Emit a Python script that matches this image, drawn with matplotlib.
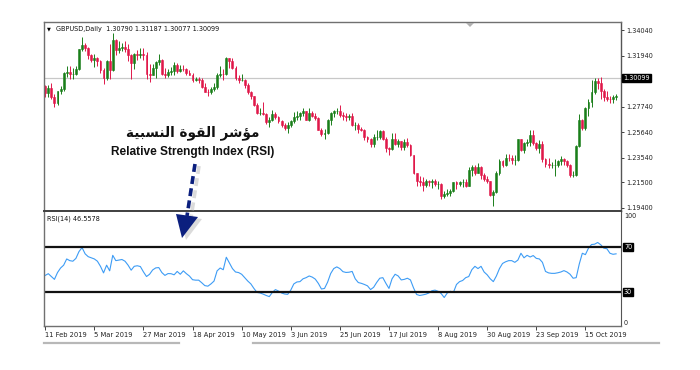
import numpy as np
import matplotlib.pyplot as plt
from matplotlib.patches import Polygon
from matplotlib.lines import Line2D
import matplotlib.transforms as mtransforms

# === Data (GBPUSD daily) ===
opens = [
    1.2940, 1.2885, 1.2930, 1.2850, 1.2805, 1.2900, 1.2920, 1.3050, 1.3060, 1.3040,
    1.3045, 1.3085, 1.3245, 1.3280, 1.3260, 1.3195, 1.3160, 1.3170, 1.3145, 1.3075,
    1.3010, 1.3150, 1.3075, 1.3320, 1.3240, 1.3260, 1.3265, 1.3250, 1.3200, 1.3135,
    1.3210, 1.3195, 1.3210, 1.3200, 1.3040, 1.3030, 1.3090, 1.3140, 1.3160, 1.3040,
    1.3030, 1.3060, 1.3070, 1.3120, 1.3070, 1.3085, 1.3080, 1.3050, 1.3035, 1.2995,
    1.3000, 1.2990, 1.2935, 1.2895, 1.2890, 1.2920, 1.2935, 1.3030, 1.3045, 1.3040,
    1.3170, 1.3150, 1.3095, 1.3010, 1.2995, 1.2995, 1.2955, 1.2895, 1.2860, 1.2790,
    1.2720, 1.2720, 1.2710, 1.2650, 1.2660, 1.2715, 1.2690, 1.2655, 1.2625, 1.2600,
    1.2625, 1.2655, 1.2690, 1.2695, 1.2720, 1.2735, 1.2665, 1.2720, 1.2695, 1.2680,
    1.2585, 1.2550, 1.2560, 1.2665, 1.2720, 1.2740, 1.2740, 1.2705, 1.2695, 1.2690,
    1.2700, 1.2620, 1.2620, 1.2590, 1.2580, 1.2520, 1.2510, 1.2470, 1.2520, 1.2525,
    1.2575, 1.2510, 1.2430, 1.2425, 1.2510, 1.2470, 1.2490, 1.2440, 1.2480, 1.2455,
    1.2375, 1.2225, 1.2160, 1.2150, 1.2130, 1.2165, 1.2150, 1.2160, 1.2140, 1.2140,
    1.2035, 1.2055, 1.2065, 1.2080, 1.2150, 1.2140, 1.2150, 1.2155, 1.2125, 1.2250,
    1.2280, 1.2230, 1.2280, 1.2210, 1.2180, 1.2160, 1.2050, 1.2075, 1.2225, 1.2325,
    1.2290, 1.2355, 1.2350, 1.2335, 1.2335, 1.2505, 1.2420, 1.2475, 1.2485, 1.2540,
    1.2475, 1.2430, 1.2465, 1.2340, 1.2305, 1.2290, 1.2290, 1.2290, 1.2330, 1.2345,
    1.2330, 1.2295, 1.2210, 1.2215, 1.2450, 1.2665, 1.2600, 1.2765, 1.2810, 1.2890,
    1.2985, 1.2970, 1.2900, 1.2855, 1.2840, 1.2835, 1.2850,
]
highs = [
    1.2950, 1.2950, 1.2965, 1.2875, 1.2905, 1.2945, 1.3060, 1.3110, 1.3108, 1.3090,
    1.3110, 1.3250, 1.3350, 1.3300, 1.3265, 1.3210, 1.3205, 1.3185, 1.3155, 1.3090,
    1.3160, 1.3290, 1.3380, 1.3330, 1.3310, 1.3300, 1.3310, 1.3285, 1.3205, 1.3215,
    1.3240, 1.3260, 1.3255, 1.3225, 1.3125, 1.3125, 1.3145, 1.3210, 1.3165, 1.3090,
    1.3085, 1.3100, 1.3140, 1.3130, 1.3120, 1.3120, 1.3090, 1.3075, 1.3050, 1.3015,
    1.3020, 1.3010, 1.2965, 1.2920, 1.2935, 1.2965, 1.3050, 1.3105, 1.3085, 1.3180,
    1.3175, 1.3175, 1.3110, 1.3030, 1.3045, 1.3000, 1.2965, 1.2900, 1.2865, 1.2800,
    1.2760, 1.2815, 1.2725, 1.2690, 1.2750, 1.2730, 1.2700, 1.2665, 1.2640, 1.2645,
    1.2665, 1.2730, 1.2740, 1.2730, 1.2765, 1.2740, 1.2760, 1.2740, 1.2725, 1.2685,
    1.2595, 1.2590, 1.2670, 1.2730, 1.2750, 1.2760, 1.2785, 1.2730, 1.2720, 1.2715,
    1.2725, 1.2650, 1.2640, 1.2605, 1.2590, 1.2530, 1.2515, 1.2545, 1.2580, 1.2580,
    1.2580, 1.2520, 1.2440, 1.2560, 1.2555, 1.2505, 1.2495, 1.2510, 1.2515, 1.2470,
    1.2380, 1.2230, 1.2200, 1.2195, 1.2180, 1.2170, 1.2175, 1.2175, 1.2165, 1.2145,
    1.2080, 1.2095, 1.2100, 1.2155, 1.2160, 1.2165, 1.2175, 1.2180, 1.2275, 1.2290,
    1.2295, 1.2310, 1.2285, 1.2225, 1.2200, 1.2165, 1.2090, 1.2245, 1.2345, 1.2335,
    1.2385, 1.2385, 1.2375, 1.2380, 1.2510, 1.2510, 1.2485, 1.2505, 1.2580, 1.2580,
    1.2480, 1.2500, 1.2490, 1.2350, 1.2350, 1.2315, 1.2345, 1.2335, 1.2365, 1.2355,
    1.2335, 1.2300, 1.2245, 1.2460, 1.2710, 1.2670, 1.2770, 1.2840, 1.2990, 1.3010,
    1.3010, 1.3015, 1.2915, 1.2900, 1.2860, 1.2870, 1.2880,
]
lows = [
    1.2855, 1.2855, 1.2835, 1.2773, 1.2790, 1.2880, 1.2905, 1.3020, 1.3000, 1.3005,
    1.3035, 1.3075, 1.3230, 1.3235, 1.3165, 1.3140, 1.3100, 1.3110, 1.3050, 1.2960,
    1.2995, 1.3000, 1.3070, 1.3200, 1.3215, 1.3235, 1.3225, 1.3145, 1.3005, 1.3085,
    1.3160, 1.3175, 1.3160, 1.3005, 1.2975, 1.3030, 1.3010, 1.3120, 1.3035, 1.3010,
    1.3020, 1.3035, 1.3030, 1.3050, 1.3060, 1.3070, 1.3030, 1.3030, 1.2980, 1.2985,
    1.2965, 1.2925, 1.2890, 1.2865, 1.2880, 1.2905, 1.2920, 1.3020, 1.2995, 1.3030,
    1.3095, 1.3080, 1.2995, 1.2970, 1.2985, 1.2930, 1.2880, 1.2840, 1.2780, 1.2715,
    1.2705, 1.2705, 1.2630, 1.2605, 1.2655, 1.2675, 1.2640, 1.2605, 1.2580, 1.2560,
    1.2610, 1.2640, 1.2660, 1.2665, 1.2695, 1.2660, 1.2655, 1.2685, 1.2660, 1.2580,
    1.2535, 1.2505, 1.2545, 1.2620, 1.2690, 1.2715, 1.2685, 1.2660, 1.2655, 1.2660,
    1.2615, 1.2580, 1.2560, 1.2570, 1.2500, 1.2485, 1.2440, 1.2440, 1.2500, 1.2510,
    1.2500, 1.2400, 1.2380, 1.2420, 1.2455, 1.2440, 1.2420, 1.2420, 1.2440, 1.2365,
    1.2220, 1.2120, 1.2120, 1.2080, 1.2110, 1.2120, 1.2105, 1.2125, 1.2100, 1.2015,
    1.2020, 1.2035, 1.2035, 1.2070, 1.2100, 1.2120, 1.2110, 1.2110, 1.2120, 1.2200,
    1.2215, 1.2225, 1.2175, 1.2160, 1.2145, 1.2040, 1.1959, 1.2065, 1.2215, 1.2275,
    1.2285, 1.2325, 1.2300, 1.2290, 1.2325, 1.2410, 1.2395, 1.2450, 1.2450, 1.2460,
    1.2415, 1.2395, 1.2320, 1.2280, 1.2270, 1.2270, 1.2205, 1.2280, 1.2290, 1.2290,
    1.2275, 1.2195, 1.2195, 1.2205, 1.2445, 1.2580, 1.2580, 1.2700, 1.2770, 1.2880,
    1.2915, 1.2840, 1.2820, 1.2820, 1.2800, 1.2805, 1.2825,
]
closes = [
    1.2885, 1.2930, 1.2850, 1.2805, 1.2900, 1.2920, 1.3050, 1.3060, 1.3040, 1.3045,
    1.3085, 1.3245, 1.3280, 1.3260, 1.3195, 1.3160, 1.3170, 1.3145, 1.3075, 1.3010,
    1.3150, 1.3075, 1.3320, 1.3240, 1.3260, 1.3265, 1.3250, 1.3200, 1.3135, 1.3210,
    1.3195, 1.3210, 1.3200, 1.3040, 1.3030, 1.3090, 1.3140, 1.3160, 1.3040, 1.3030,
    1.3060, 1.3070, 1.3120, 1.3070, 1.3085, 1.3080, 1.3050, 1.3035, 1.2995, 1.3000,
    1.2990, 1.2935, 1.2895, 1.2890, 1.2920, 1.2935, 1.3030, 1.3045, 1.3040, 1.3170,
    1.3150, 1.3095, 1.3010, 1.2995, 1.2995, 1.2955, 1.2895, 1.2860, 1.2790, 1.2720,
    1.2720, 1.2710, 1.2650, 1.2660, 1.2715, 1.2690, 1.2655, 1.2625, 1.2600, 1.2625,
    1.2655, 1.2690, 1.2695, 1.2720, 1.2735, 1.2665, 1.2720, 1.2695, 1.2680, 1.2585,
    1.2550, 1.2560, 1.2665, 1.2720, 1.2740, 1.2740, 1.2705, 1.2695, 1.2690, 1.2700,
    1.2620, 1.2620, 1.2590, 1.2580, 1.2520, 1.2510, 1.2470, 1.2520, 1.2525, 1.2575,
    1.2510, 1.2430, 1.2425, 1.2510, 1.2470, 1.2490, 1.2440, 1.2480, 1.2455, 1.2375,
    1.2225, 1.2160, 1.2150, 1.2130, 1.2165, 1.2150, 1.2160, 1.2140, 1.2140, 1.2035,
    1.2055, 1.2065, 1.2080, 1.2150, 1.2140, 1.2150, 1.2155, 1.2125, 1.2250, 1.2280,
    1.2230, 1.2280, 1.2210, 1.2180, 1.2160, 1.2050, 1.2075, 1.2225, 1.2325, 1.2290,
    1.2355, 1.2350, 1.2335, 1.2335, 1.2505, 1.2420, 1.2475, 1.2485, 1.2540, 1.2475,
    1.2430, 1.2465, 1.2340, 1.2305, 1.2290, 1.2290, 1.2290, 1.2330, 1.2345, 1.2330,
    1.2295, 1.2210, 1.2215, 1.2450, 1.2665, 1.2600, 1.2765, 1.2810, 1.2890, 1.2985,
    1.2970, 1.2900, 1.2855, 1.2840, 1.2835, 1.2850, 1.2865,
]
rsi_values = [
    45.0, 46.5, 44.0, 41.5, 47.5, 51.5, 54.0, 59.5, 58.0, 57.5,
    60.0, 66.0, 69.5, 64.0, 61.5, 60.5, 59.5, 57.5, 53.0, 47.2,
    54.0, 49.0, 62.7, 58.0, 58.5, 59.0, 57.5, 54.0, 49.6, 53.0,
    53.5, 52.8, 48.1, 44.0, 46.0, 49.8, 51.6, 51.9, 47.5, 45.0,
    46.6, 46.5, 45.5, 48.5, 46.0, 49.0, 46.5, 44.4, 41.2, 40.8,
    40.8, 38.5, 36.0, 35.5, 37.5, 40.0, 49.0, 51.5, 50.0, 61.0,
    56.0, 51.0, 48.0, 47.5, 46.0, 43.0, 40.0, 37.5, 33.5, 30.0,
    29.5, 28.5, 27.3, 26.3, 30.0, 32.5, 31.2, 29.5, 28.6, 28.3,
    32.0, 37.5, 39.2, 39.5, 42.0, 43.0, 44.5, 43.5, 41.7, 37.9,
    33.0, 33.5, 39.0, 46.6, 51.0, 52.5, 51.0, 48.3, 47.6, 47.8,
    48.5, 42.0, 38.7, 38.0, 37.0, 35.8, 32.5, 34.5, 38.8, 42.5,
    43.0, 38.0, 33.5, 42.0, 46.0, 44.5, 41.0, 41.5, 42.5, 41.0,
    34.0, 28.2, 27.3, 27.8, 28.4, 29.5, 31.5, 32.0, 31.0, 29.0,
    25.5, 29.5, 31.0, 30.0, 37.0, 39.5, 40.5, 43.0, 44.0, 50.0,
    53.0, 51.0, 53.0, 48.0, 45.5, 42.0, 39.5, 44.5, 51.0, 55.5,
    57.0, 58.0, 58.0, 56.5, 58.5, 64.5, 60.5, 62.7, 61.2, 62.5,
    60.0, 59.5, 56.5, 48.5, 47.2, 46.8, 46.8, 47.3, 48.0, 49.2,
    48.0, 46.0, 42.5, 43.0, 55.0, 64.5, 63.3, 69.0, 72.2, 72.5,
    74.0, 72.0, 69.0, 68.5, 64.5, 63.6, 64.0,
]

date_ticks = [0, 16, 32, 48, 64, 80, 96, 112, 128, 144, 160, 176]
date_labels = ["11 Feb 2019", "5 Mar 2019", "27 Mar 2019", "18 Apr 2019",
               "10 May 2019", "3 Jun 2019", "25 Jun 2019", "17 Jul 2019",
               "8 Aug 2019", "30 Aug 2019", "23 Sep 2019", "15 Oct 2019"]
price_ticks = [1.34040, 1.31940, 1.27740, 1.25640, 1.23540, 1.21500, 1.19400]
bid_price = 1.30099
header = "GBPUSD,Daily  1.30790 1.31187 1.30077 1.30099"
rsi_header = "RSI(14) 46.5578"
rsi_levels = [70, 30]
title_ar = "\ufe94\ufef4\ufe92\ufeb4\ufee8\ufedf\ufe8d \ufe93\ufeee\ufed8\ufedf\ufe8d \ufeae\ufeb7\ufe86\ufee3"  # مؤشر القوة النسبية
title_en = "Relative Strength Index (RSI)"

W, H = 700, 370


def fx(px):
    return px / W


def fy(py):
    return 1 - py / H


GREEN = '#1a7f1a'
RED = '#e0184a'
FS = 4.7

fig = plt.figure(figsize=(7, 3.7), dpi=100)
fig.patch.set_facecolor('white')

ax = fig.add_axes([fx(44), fy(211), fx(621) - fx(44), fy(22) - fy(211)])
ax2 = fig.add_axes([fx(44), fy(326), fx(621) - fx(44), fy(211) - fy(326)])

idx = np.arange(len(closes))
o = np.array(opens)
c = np.array(closes)
up = c >= o
colors = np.where(up, GREEN, RED)

# === price pane ===
ax.vlines(idx, lows, highs, colors=colors, lw=0.7)
ax.bar(idx, c - o, bottom=o, width=0.62, color=colors, edgecolor=colors, lw=0.4)
ax.axhline(bid_price, color='#c8c8c8', lw=0.9, zorder=0)
ax.set_xlim(-0.4, 187.6)
ax.set_ylim(1.19153, 1.34698)
ax.set_xticks([])
ax.yaxis.tick_right()
ax.set_yticks(price_ticks)
ax.set_yticklabels([f"{p:.5f}" for p in price_ticks])
ax.tick_params(axis='y', labelsize=FS, length=2.5, width=0.6, pad=1.2, colors='#222222')
for s in ['left', 'top', 'bottom']:
    ax.spines[s].set_color('#707070')
    ax.spines[s].set_linewidth(1.0)
ax.spines['right'].set_color('#555555')
ax.spines['right'].set_linewidth(1.0)

tr = mtransforms.blended_transform_factory(ax.transAxes, ax.transData)
ax.text(1.0 + 2 / 577, bid_price, f"{bid_price:.5f}", transform=tr, fontsize=FS,
        color='white', va='center', ha='left',
        bbox=dict(boxstyle='square,pad=0.15', fc='black', ec='black'))

fig.text(fx(56), fy(29), header, fontsize=FS, va='center', ha='left', color='#111111')
fig.text(fx(49), fy(29), "\u25bc", fontsize=3.6, va='center', ha='center', color='black')
# chart shift marker
fig.patches.append(Polygon([[fx(466), fy(23)], [fx(474), fy(23)], [fx(470), fy(27)]],
                           closed=True, transform=fig.transFigure, fc='#b0b0b0', ec='none'))

# === RSI pane ===
ax2.plot(idx, rsi_values, color='#3d9cf5', lw=0.8)
for lvl in rsi_levels:
    ax2.axhline(lvl, color='#111111', lw=1.6)
ax2.set_xlim(-0.4, 187.6)
ax2.set_ylim(0.4, 101.75)
ax2.set_yticks([])
ax2.set_xticks(date_ticks)
ax2.set_xticklabels(date_labels, ha='left')
ax2.tick_params(axis='x', labelsize=FS + 0.2, length=3, width=0.6, pad=1.5, colors='#222222')
for s in ['left', 'top', 'bottom']:
    ax2.spines[s].set_color('#707070')
    ax2.spines[s].set_linewidth(1.0)
ax2.spines['top'].set_color('#404040')
ax2.spines['top'].set_linewidth(1.4)
ax2.spines['right'].set_color('#555555')

tr2 = mtransforms.blended_transform_factory(ax2.transAxes, ax2.transData)
ax2.text(1.0 + 3 / 577, 100, "100", transform=tr2, fontsize=FS, va='top', ha='left', color='#222222')
ax2.text(1.0 + 3 / 577, 0.5, "0", transform=tr2, fontsize=FS, va='bottom', ha='left', color='#222222')
for lvl in rsi_levels:
    ax2.text(1.0 + 3 / 577, lvl, str(lvl), transform=tr2, fontsize=FS, color='white',
             va='center', ha='left', bbox=dict(boxstyle='square,pad=0.15', fc='black', ec='black'))
fig.text(fx(47), fy(219), rsi_header, fontsize=FS, va='center', ha='left', color='#111111')

# scroll bar at the bottom
fig.add_artist(Line2D([fx(44), fx(179)], [fy(343), fy(343)], color='#b8b8b8', lw=1.6))
fig.add_artist(Line2D([fx(253), fx(659)], [fy(343), fy(343)], color='#b8b8b8', lw=1.6))

# === annotation ===
fig.text(fx(193), fy(133), title_ar, fontsize=9.8, fontweight='bold', ha='center', va='center',
         family=['DejaVu Sans'], color='#111111')
fig.text(fx(193), fy(152), title_en, fontsize=8.6, fontweight='bold', ha='center', va='center',
         family=['Liberation Sans', 'DejaVu Sans'], color='#111111')

NAVY = '#0b1f7e'
for dx, dy, col, a, z in [(4, 2, '#c4c4c4', 0.6, 5), (0, 0, NAVY, 1.0, 6)]:
    fig.add_artist(Line2D([fx(195 + dx), fx(187 + dx)], [fy(164 + dy), fy(216 + dy)],
                          color=col, lw=2.6, dashes=(2.2, 1.2), zorder=z, alpha=a))
    fig.patches.append(Polygon([[fx(176 + dx), fy(214 + dy)], [fx(198 + dx), fy(217 + dy)],
                                [fx(182 + dx), fy(238 + dy)]], closed=True,
                               transform=fig.transFigure, fc=col, ec='none', zorder=z, alpha=a))

plt.savefig("out.png", dpi=100)
